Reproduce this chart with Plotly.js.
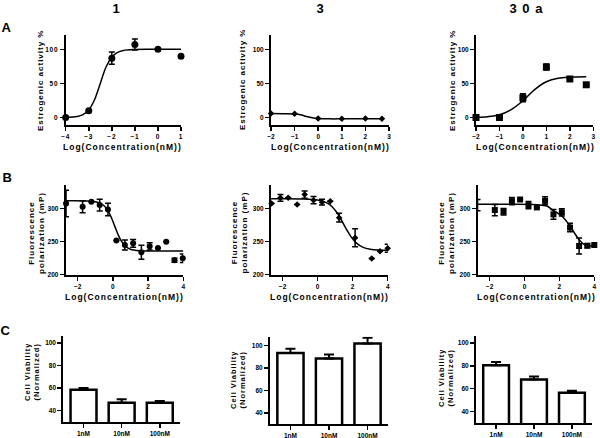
<!DOCTYPE html>
<html>
<head>
<meta charset="utf-8">
<script src="https://cdn.plot.ly/plotly-3.0.1.min.js"></script>
<style>
html, body { margin: 0; padding: 0; background: #fff; }
#myDiv { width: 600px; height: 438px; }
/* the original figure uses widely spaced lettering */
#myDiv .annotation-text { letter-spacing: 1px; }
#myDiv .xtick text, #myDiv .ytick text { letter-spacing: 0.8px; }
</style>
</head>
<body>
<div id="myDiv"></div>
<script>
// --- row A : estrogenic activity (%) ---
var a1X = [-4, -3, -2, -1, 0, 1];
var a1Y = [0, 10, 87, 107, 100, 90];
var a1Err = [0, 0, 9, 8, 0, 0];
var a1FitX = [-4, -3.5, -3.25, -3, -2.75, -2.5, -2.25, -2, -1.75, -1.5, -1, 0, 1];
var a1FitY = [0.2, 1.6, 4.3, 11, 26, 50, 74, 88.5, 95.5, 98.4, 99.8, 100, 100];

var a2X = [-2, -1, 0, 1, 2, 2.7];
var a2Y = [5.8, 5.5, -1.5, -2, -1.5, -2];
var a2FitX = [-2, -1.5, -1, -0.75, -0.5, -0.25, 0, 0.5, 1, 2, 2.7];
var a2FitY = [5.7, 5.6, 5.2, 4, 1.5, -0.5, -1.5, -2, -2, -2, -2];

var a3X = [-2, -1, 0, 1, 2, 2.7];
var a3Y = [0, 0, 29, 74, 56.5, 48];
var a3Err = [0, 0, 6, 4.5, 0, 0];
var a3FitX = [-2, -1.5, -1, -0.5, 0, 0.5, 1, 1.5, 2, 2.7];
var a3FitY = [0.4, 1.2, 4, 11.5, 24.5, 41, 52.5, 57.6, 59.2, 59.8];

// --- row B : fluorescence polarization (mP) ---
var b1X = [-2.66, -1.72, -1.22, -0.75, -0.28, 0.2, 0.68, 1.15, 1.62, 2.09, 2.56, 3.03, 3.5, 3.97];
var b1Y = [308, 303, 310.5, 305.5, 299, 252, 245, 247.5, 234, 243, 240.5, 250, 222, 225];
var b1Err = [20, 9, 0, 9, 9.5, 0, 7.5, 6, 10.5, 5.5, 0, 0, 3, 6.5];
var b1FitX = [-2.7, -1.5, -1, -0.7, -0.5, -0.3, -0.1, 0.1, 0.3, 0.5, 0.7, 1, 1.5, 2.5, 4];
var b1FitY = [312, 311.8, 310.7, 308.2, 304.5, 297.9, 287.4, 274, 260.6, 250.1, 243.5, 238.7, 236.4, 236, 236];

var b2X = [-2.63, -2.12, -1.68, -1.17, -0.74, -0.23, 0.25, 0.72, 1.23, 2.14, 3.09, 3.56, 4.0];
var b2Y = [308, 316.5, 316.5, 306.5, 321.5, 313, 310, 311.5, 286.5, 256, 224.5, 235.5, 240];
var b2Err = [0, 5, 0, 0, 5.5, 5.5, 4.5, 0, 6.5, 13.5, 0, 0, 6];
var b2FitX = [-2.7, -1, 0, 0.5, 0.8, 1.1, 1.3, 1.5, 1.7, 1.9, 2.2, 2.6, 3, 3.5, 4];
var b2FitY = [315, 314.9, 313.3, 309.2, 303.7, 294.3, 285.7, 276, 266.3, 257.7, 248.3, 241.5, 238.7, 237.5, 237.2];

var b3X = [-2.69, -1.7, -1.2, -0.72, -0.25, 0.23, 0.71, 1.18, 1.66, 2.14, 2.61, 3.13, 3.6, 4.0];
var b3Y = [305.5, 298, 295.5, 311.5, 314, 305.5, 302, 312, 291.5, 294.5, 271.5, 243.5, 244, 245];
var b3Err = [8.5, 8.5, 5, 5.5, 0, 5.5, 0, 6, 7.5, 5.5, 6.5, 12, 3, 0];
var b3FitX = [-2.7, -1.2, 0.71, 1.28, 1.66, 2.14, 2.61, 2.9, 3.18, 3.47, 3.85, 4.0];
var b3FitY = [306.7, 306.7, 306.1, 304.1, 297, 289, 273.8, 261.7, 251.5, 245, 243.5, 243.5];

// --- row C : cell viability (normalized) ---
var doses = ['1nM', '10nM', '100nM'];
var c1Y = [58.5, 47, 47];
var c1Err = [1.5, 3, 1.5];
var c2Y = [93.5, 88.5, 102];
var c2Err = [3.8, 3.6, 5];
var c3Y = [80.5, 68, 56.5];
var c3Err = [2.7, 2.6, 1.7];

var fontFam = 'Liberation Sans, Arial, sans-serif';
var black = '#000';

function pts(xs, ys, errs, sym, size, ax) {
  var t = {
    x: xs, y: ys, mode: 'markers', type: 'scatter',
    marker: {symbol: sym, size: size, color: black},
    cliponaxis: false,
    xaxis: 'x' + ax, yaxis: 'y' + ax, hoverinfo: 'x+y'
  };
  if (errs) {
    t.error_y = {type: 'data', array: errs, visible: true, color: black, thickness: 1.5, width: 3};
  }
  return t;
}

function fit(xs, ys, ax) {
  return {
    x: xs, y: ys, mode: 'lines', type: 'scatter',
    line: {color: black, width: 1.5, shape: 'spline'},
    cliponaxis: false,
    xaxis: 'x' + ax, yaxis: 'y' + ax, hoverinfo: 'skip'
  };
}

function bars(ys, errs, ax) {
  return {
    x: doses, y: ys, type: 'bar', width: 0.68,
    marker: {color: '#fff', line: {color: black, width: 2.5}},
    error_y: {type: 'data', array: errs, arrayminus: [0, 0, 0], symmetric: false,
              visible: true, color: black, thickness: 2, width: 5},
    xaxis: 'x' + ax, yaxis: 'y' + ax
  };
}

var data = [
  fit(a1FitX, a1FitY, ''), pts(a1X, a1Y, a1Err, 'circle', 7, ''),
  fit(a2FitX, a2FitY, '2'), pts(a2X, a2Y, null, 'diamond', 5, '2'),
  fit(a3FitX, a3FitY, '3'), pts(a3X, a3Y, a3Err, 'square', 7, '3'),
  fit(b1FitX, b1FitY, '4'), pts(b1X, b1Y, b1Err, 'circle', 6, '4'),
  fit(b2FitX, b2FitY, '5'), pts(b2X, b2Y, b2Err, 'diamond', 5, '5'),
  fit(b3FitX, b3FitY, '6'), pts(b3X, b3Y, b3Err, 'square', 6, '6'),
  bars(c1Y, c1Err, '7'), bars(c2Y, c2Err, '8'), bars(c3Y, c3Err, '9')
];

var tickFont = {family: fontFam, size: 6.5, color: black, weight: 'bold'};

function axis(dom, rng, tv, anchor) {
  var a = {
    domain: dom, range: rng, anchor: anchor,
    showline: true, linecolor: black, linewidth: 2,
    ticks: 'outside', ticklen: 4, tickwidth: 1.5, tickcolor: black,
    showgrid: false, zeroline: false, fixedrange: true,
    tickfont: tickFont
  };
  if (tv) { a.tickvals = tv; }
  return a;
}

// pixel -> paper helpers
function px(v) { return v / 600; }
function py(v) { return 1 - v / 438; }

var layout = {
  width: 600, height: 438,
  margin: {l: 0, r: 0, t: 0, b: 0},
  paper_bgcolor: '#fff', plot_bgcolor: '#fff',
  showlegend: false,
  font: {family: fontFam, color: black},
  xaxis: axis([px(65.7), px(181)], [-4, 1], [-4, -3, -2, -1, 0, 1], 'y'),
  yaxis: axis([py(125), py(35)], [-11, 121], [0, 50, 100], 'x'),
  xaxis2: axis([px(271), px(389)], [-2, 3], [-2, -1, 0, 1, 2, 3], 'y2'),
  yaxis2: axis([py(125), py(35)], [-11, 121], [0, 50, 100], 'x2'),
  xaxis3: axis([px(476), px(593.3)], [-2, 3], [-2, -1, 0, 1, 2, 3], 'y3'),
  yaxis3: axis([py(125), py(35)], [-11, 121], [0, 50, 100], 'x3'),
  xaxis4: axis([px(65.7), px(183.3)], [-2.68, 4], [-2, 0, 2, 4], 'y4'),
  yaxis4: axis([py(274.7), py(185)], [200, 336], [200, 250, 300], 'x4'),
  xaxis5: axis([px(271), px(387.7)], [-2.66, 4], [-2, 0, 2, 4], 'y5'),
  yaxis5: axis([py(274.7), py(185)], [200, 336], [200, 250, 300], 'x5'),
  xaxis6: axis([px(477.7), px(594.3)], [-2.68, 4], [-2, 0, 2, 4], 'y6'),
  yaxis6: axis([py(274.7), py(185)], [200, 336], [200, 250, 300], 'x6'),
  xaxis7: axis([px(63.3), px(180)], [-0.53, 2.53], null, 'y7'),
  yaxis7: axis([py(422), py(336)], [30, 106], [40, 60, 80, 100], 'x7'),
  xaxis8: axis([px(270), px(388)], [-0.53, 2.53], null, 'y8'),
  yaxis8: axis([py(424), py(336.7)], [30, 108], [40, 60, 80, 100], 'x8'),
  xaxis9: axis([px(476), px(592)], [-0.53, 2.53], null, 'y9'),
  yaxis9: axis([py(423), py(336)], [30, 106], [40, 60, 80, 100], 'x9'),
  annotations: []
};

function label(text, x, y, size, angle) {
  layout.annotations.push({
    text: text, xref: 'paper', yref: 'paper', x: px(x), y: py(y),
    xanchor: 'center', yanchor: 'middle', showarrow: false, textangle: angle || 0,
    font: {family: fontFam, size: size, color: black, weight: 'bold'}
  });
}

// column and row headings
label('1', 116, 8, 13);
label('3', 320, 8, 13);
label('3 0 a', 527, 8, 13);
label('A', 7, 27, 13);
label('B', 7, 178, 13);
label('C', 6, 330, 13);

// axis titles
var xTitle = 'Log(Concentration(nM))';
label(xTitle, 123, 147, 8.5);
label(xTitle, 330, 147, 8.5);
label(xTitle, 535, 147, 8.5);
label(xTitle, 124, 297, 8.5);
label(xTitle, 329, 297, 8.5);
label(xTitle, 536, 297, 8.5);

label('Estrogenic activity %', 39.5, 80, 8, -90);
label('Estrogenic activity %', 241.5, 80, 8, -90);
label('Estrogenic activity %', 451.5, 80, 8, -90);

label('Fluorescence<br>polarization (mP)', 35.5, 233, 8, -90);
label('Fluorescence<br>polarization (mP)', 239, 233, 8, -90);
label('Fluorescence<br>polarization (mP)', 445.5, 233, 8, -90);

label('Cell Viability<br>(Normalized)', 31.5, 372, 7.5, -90);
label('Cell Viability<br>(Normalized)', 237.5, 380, 7.5, -90);
label('Cell Viability<br>(Normalized)', 445.5, 378, 7.5, -90);

Plotly.newPlot('myDiv', data, layout, {staticPlot: true});
</script>
</body>
</html>
